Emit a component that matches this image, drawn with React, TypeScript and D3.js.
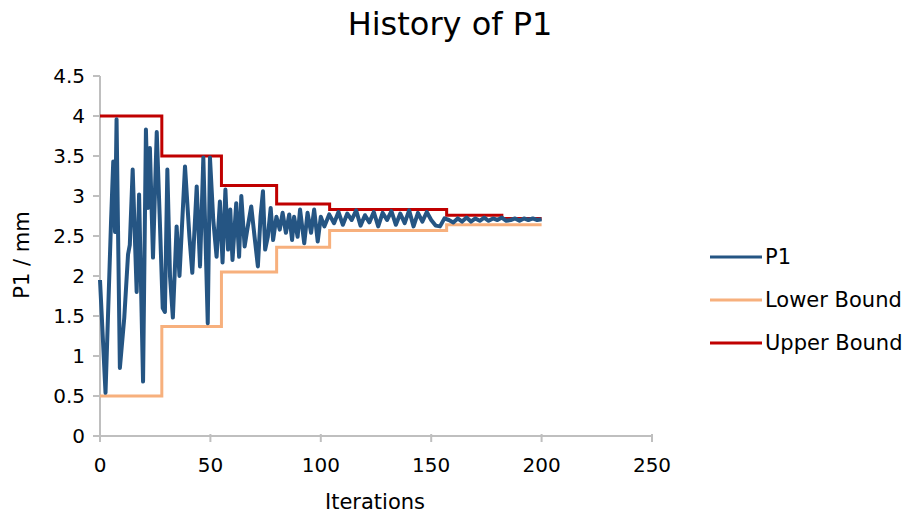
import React from 'react';
import * as d3 from 'd3';

// P1 trace as [iteration, value]
const p1Iters = [
  0, 2.5, 5, 6, 6.8, 7.5, 9, 11, 12.7, 13.5, 14.8, 16.6, 17.7, 19.5, 20.8, 21.7, 22.6, 24, 25.7, 27,
  28.4, 29.4, 30.5, 31.7, 33, 34.7, 36, 38.5, 40.5, 41.8, 43.8, 45.3, 46.8, 48.8, 49.8, 51.3, 52.8, 54.3, 55.5, 56.8,
  58, 59, 60, 61.7, 63, 64, 65.5, 66.7, 68.5, 70, 71.5, 72.7, 73.8, 74.8, 76, 77.3, 78.4, 79.9, 81.4, 82.7,
  84.2, 85.7, 87, 87.9, 89.5, 90.6, 92.5, 94, 95.6, 97, 98.6, 100, 101.6, 103.8,
  106, 108, 110, 112, 114, 116, 118, 120, 122, 124, 126, 128, 130, 132, 134, 136, 138, 140, 142, 144,
  146, 148, 150, 152, 154, 156, 158, 160, 162, 164, 166, 168, 170, 172, 174, 176, 178, 180, 182, 184,
  186, 188, 190, 192, 194, 196, 198, 200,
];
const p1Values = [
  1.95, 0.54, 2.68, 3.43, 2.55, 3.96, 0.85, 1.48, 2.27, 2.39, 3.33, 1.8, 3.02, 0.68, 3.83, 2.85, 3.6, 2.23, 3.8, 2.77,
  1.6, 1.55, 3.33, 2.0, 1.48, 2.62, 2.0, 3.37, 2.49, 2.04, 3.12, 2.12, 3.48, 1.41, 3.48, 2.7, 2.24, 2.93, 2.17, 3.08,
  2.33, 2.83, 2.2, 2.91, 2.24, 3.0, 2.37, 2.58, 2.87, 2.49, 2.12, 2.74, 3.06, 2.33, 2.49, 2.85, 2.45, 2.74, 2.58, 2.79,
  2.54, 2.77, 2.45, 2.74, 2.49, 2.83, 2.41, 2.79, 2.54, 2.83, 2.43, 2.74, 2.62, 2.77,
  2.66, 2.8, 2.64, 2.78, 2.7, 2.82, 2.63, 2.76, 2.67, 2.8, 2.62, 2.79, 2.7, 2.81, 2.64, 2.78, 2.66, 2.82, 2.62, 2.79,
  2.68, 2.8, 2.7, 2.63, 2.62, 2.72, 2.7, 2.67, 2.72, 2.68, 2.73, 2.68, 2.72, 2.69, 2.73, 2.69, 2.72, 2.7, 2.73, 2.69,
  2.7, 2.72, 2.69, 2.72, 2.7, 2.72, 2.7, 2.71,
];

// bounds are step functions: value holds from each break until the next
const upperBreaks = [0, 28, 55, 80, 104, 157, 182, 200];
const upperValues = [4, 3.5, 3.13, 2.9, 2.83, 2.76, 2.72, 2.72];
const lowerBreaks = [0, 28, 55, 80, 104, 157, 200];
const lowerValues = [0.5, 1.37, 2.05, 2.36, 2.57, 2.64, 2.64];

const xTicks = [0, 50, 100, 150, 200, 250];
const yTicks = [0, 0.5, 1, 1.5, 2, 2.5, 3, 3.5, 4, 4.5];

const legendItems = [
  { name: 'P1', color: '#255583' },
  { name: 'Lower Bound', color: '#F7B07D' },
  { name: 'Upper Bound', color: '#C00000' },
];

const FONT = "'DejaVu Sans', sans-serif";
const AXIS = '#BFBFBF';

export default function App() {
  const width = 909;
  const height = 519;
  const margin = { top: 76, left: 100, right: 257, bottom: 83 };

  const x = d3.scaleLinear().domain([0, 250]).range([margin.left, width - margin.right]);
  const y = d3.scaleLinear().domain([0, 4.5]).range([height - margin.bottom, margin.top]);

  const line = d3.line<[number, number]>()
    .x(d => x(d[0]))
    .y(d => y(d[1]));
  const step = d3.line<[number, number]>()
    .x(d => x(d[0]))
    .y(d => y(d[1]))
    .curve(d3.curveStepAfter);

  const p1 = p1Iters.map((it, i) => [it, p1Values[i]] as [number, number]);
  const upper = upperBreaks.map((it, i) => [it, upperValues[i]] as [number, number]);
  const lower = lowerBreaks.map((it, i) => [it, lowerValues[i]] as [number, number]);

  const y0 = y(0);
  const x0 = x(0);

  return (
    <svg width={width} height={height} style={{ position: 'absolute', left: 0, top: 0, background: '#fff' }}
      fontFamily={FONT}>
      <text x={450} y={35} textAnchor="middle" fontSize={32} fill="#000">History of P1</text>

      {/* axes */}
      <line x1={x0} x2={x(250)} y1={y0} y2={y0} stroke={AXIS} strokeWidth={2} />
      <line x1={x0} x2={x0} y1={y(4.5)} y2={y0} stroke={AXIS} strokeWidth={2} />
      {yTicks.map(t => (
        <g key={'y' + t}>
          <line x1={x0 - 7} x2={x0} y1={y(t)} y2={y(t)} stroke={AXIS} strokeWidth={2} />
          <text x={x0 - 15} y={y(t)} dy="0.35em" textAnchor="end" fontSize={20} fill="#000">{t}</text>
        </g>
      ))}
      {xTicks.map(t => (
        <g key={'x' + t}>
          <line x1={x(t)} x2={x(t)} y1={y0 - 2} y2={y0 + 6} stroke={AXIS} strokeWidth={2} />
          <text x={x(t)} y={y0 + 29} dy="0.35em" textAnchor="middle" fontSize={20} fill="#000">{t}</text>
        </g>
      ))}
      <text x={375} y={502} dy="0.35em" textAnchor="middle" fontSize={21} fill="#000">Iterations</text>
      <text transform={`translate(22,255) rotate(-90)`} dy="0.35em" textAnchor="middle" fontSize={21} fill="#000">P1 / mm</text>

      {/* series */}
      <path d={step(lower) || ''} fill="none" stroke="#F7B07D" strokeWidth={3} />
      <path d={step(upper) || ''} fill="none" stroke="#C00000" strokeWidth={3} />
      <path d={line(p1) || ''} fill="none" stroke="#255583" strokeWidth={4} strokeLinejoin="round" />

      {/* legend */}
      {legendItems.map((item, i) => (
        <g key={item.name} transform={`translate(710,${257 + i * 43})`}>
          <line x1={0} x2={52} y1={0} y2={0} stroke={item.color} strokeWidth={3} />
          <text x={55} y={0} dy="0.35em" fontSize={21} fill="#000">{item.name}</text>
        </g>
      ))}
    </svg>
  );
}
